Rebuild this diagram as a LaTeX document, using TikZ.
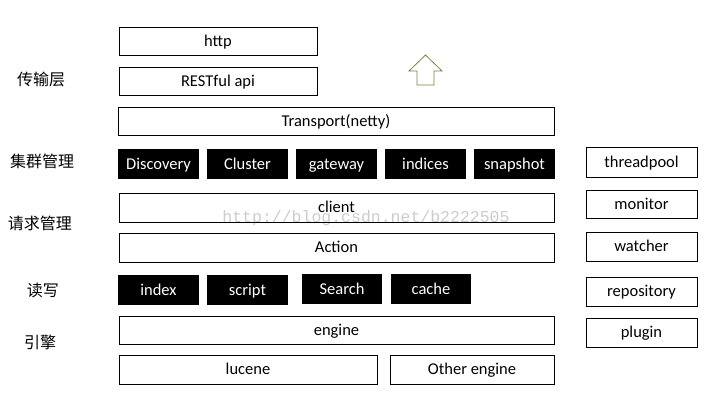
\documentclass[tikz,border=0pt]{standalone}
\usepackage{fontspec}
\setmainfont{Carlito}
\newfontfamily\cjk{Noto Sans CJK SC}
\newfontfamily\wmfont{Liberation Mono}
\definecolor{arrowgreen}{RGB}{113,137,63}
\begin{document}
\begin{tikzpicture}[x=1pt, y=-1pt]
            \tikzstyle{every node}=[inner sep=0pt, text height=12pt, text depth=2pt, font=\fontsize{16.5}{19}\selectfont, text=black]
            \tikzstyle{layer}=[draw=black, line width=1pt, fill=white]
            \tikzstyle{module}=[fill=black, text=white, minimum width=81pt, minimum height=30pt]
            \tikzstyle{side}=[layer, minimum width=111pt, minimum height=29pt]
            \tikzstyle{tier}=[font=\cjk\fontsize{16}{19}\selectfont, text height=14pt, text depth=2pt]

            \useasboundingbox (0,0) rectangle (715,413);

            % transport
            \node[layer, minimum width=198pt, minimum height=28pt] (http) at (218,41) {http};
            \node[layer, minimum width=198pt, minimum height=28pt] (rest) at (218,81) {RESTful api};
            \node[layer, minimum width=436pt, minimum height=28pt] (transport) at (336,121) {Transport(netty)};
            \draw[arrowgreen, line width=0.8pt, fill=white]
                (425.5,55) -- (442,71) -- (434,71) -- (434,85) -- (417,85) -- (417,71) -- (409,71) -- cycle;

            % cluster
            \node[module] (discovery) at (158.5,164) {Discovery};
            \node[module] (cluster) at (247.5,164) {Cluster};
            \node[module] (gateway) at (336.5,164) {gateway};
            \node[module] (indices) at (425.5,164) {indices};
            \node[module] (snapshot) at (514.5,164) {snapshot};

            % request
            \node[font=\wmfont\fontsize{16.5}{18}\selectfont, text=black!20] (mark) at (366,217) {http://blog.csdn.net/b2222505};
            \node[layer, fill=none, minimum width=435pt, minimum height=29pt] (client) at (336.5,207.5) {client};
            \node[layer, minimum width=435pt, minimum height=29pt] (action) at (336.5,247.5) {Action};

            % read/write
            \node[module] (index) at (158.5,290) {index};
            \node[module] (script) at (247.5,290) {script};
            \node[module, minimum width=80pt] (search) at (342,289) {Search};
            \node[module, minimum width=80pt] (cache) at (431,289) {cache};

            % engine
            \node[layer, minimum width=435pt, minimum height=28pt] (engine) at (336.5,330) {engine};
            \node[layer, minimum width=258pt, minimum height=29pt] (lucene) at (248,369.5) {lucene};
            \node[layer, minimum width=164pt, minimum height=29pt] (other) at (472,369.5) {Other engine};

            % side modules
            \node[side, minimum height=30pt] (threadpool) at (641.5,162) {threadpool};
            \node[side, minimum height=28pt] (monitor) at (641.5,204) {monitor};
            \node[side] (watcher) at (641.5,246.5) {watcher};
            \node[side] (repository) at (641.5,291.5) {repository};
            \node[side] (plugin) at (641.5,332.5) {plugin};

            % tiers
            \node[tier] (t1) at (41,79) {传输层};
            \node[tier] (t2) at (42,161) {集群管理};
            \node[tier] (t3) at (40,223) {请求管理};
            \node[tier] (t4) at (43,290) {读写};
            \node[tier] (t5) at (40,342) {引擎};
        \end{tikzpicture}
\end{document}
